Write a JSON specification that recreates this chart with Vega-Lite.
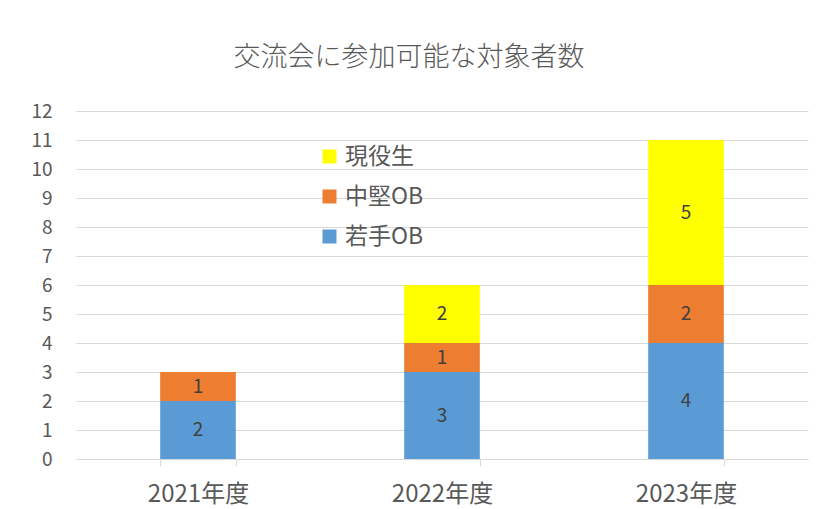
{
  "$schema": "https://vega.github.io/schema/vega-lite/v6.json",
  "width": 732,
  "height": 348,
  "autosize": "none",
  "padding": {"left": 76, "top": 111, "right": 18, "bottom": 50},
  "background": "white",
  "config": {
    "font": "Noto Sans CJK JP",
    "view": {"stroke": null}
  },
  "title": {
    "text": "交流会に参加可能な対象者数",
    "fontSize": 27,
    "fontWeight": 300,
    "color": "#595959",
    "anchor": "middle",
    "dx": -33,
    "offset": 30
  },
  "data": {
    "values": [
      {"year": "2021年度", "group": "若手OB", "value": 2},
      {"year": "2021年度", "group": "中堅OB", "value": 1},
      {"year": "2022年度", "group": "若手OB", "value": 3},
      {"year": "2022年度", "group": "中堅OB", "value": 1},
      {"year": "2022年度", "group": "現役生", "value": 2},
      {"year": "2023年度", "group": "若手OB", "value": 4},
      {"year": "2023年度", "group": "中堅OB", "value": 2},
      {"year": "2023年度", "group": "現役生", "value": 5}
    ]
  },
  "transform": [
    {"calculate": "indexof(['若手OB','中堅OB','現役生'], datum.group)", "as": "ord"},
    {"stack": "value", "groupby": ["year"], "sort": [{"field": "ord", "order": "ascending"}], "as": ["v0", "v1"]},
    {"calculate": "(datum.v0 + datum.v1) / 2", "as": "mid"}
  ],
  "encoding": {
    "x": {
      "field": "year",
      "type": "nominal",
      "title": null,
      "scale": {"paddingInner": 0.69, "paddingOuter": 0.345},
      "axis": {
        "labelAngle": 0,
        "labelFontSize": 24,
        "labelColor": "#595959",
        "labelPadding": 16,
        "domainColor": "#D9D9D9",
        "tickColor": "#D9D9D9",
        "tickBand": "extent",
        "tickSize": 7,
        "grid": false
      }
    }
  },
  "layer": [
    {
      "mark": {"type": "bar"},
      "encoding": {
        "y": {
          "field": "v0",
          "type": "quantitative",
          "title": null,
          "scale": {"domain": [0, 12]},
          "axis": {
            "values": [0,1,2,3,4,5,6,7,8,9,10,11,12],
            "labelOverlap": false,
            "domain": false,
            "ticks": false,
            "tickSize": 0,
            "labelFontSize": 19,
            "labelColor": "#595959",
            "labelPadding": 24,
            "gridColor": "#D9D9D9",
            "gridWidth": 1
          }
        },
        "y2": {"field": "v1"},
        "color": {
          "field": "group",
          "type": "nominal",
          "scale": {
            "domain": ["現役生", "中堅OB", "若手OB"],
            "range": ["#FFFF00", "#ED7D31", "#5B9BD5"]
          },
          "legend": {
            "title": null,
            "orient": "none",
            "legendX": 242,
            "legendY": 34,
            "symbolType": "square",
            "symbolSize": 196,
            "symbolStrokeWidth": 0,
            "labelFontSize": 23,
            "labelColor": "#595959",
            "labelOffset": 4,
            "rowPadding": 16
          }
        }
      }
    },
    {
      "mark": {"type": "text", "fontSize": 19, "color": "#404040"},
      "encoding": {
        "y": {
          "field": "mid",
          "type": "quantitative",
          "title": null,
          "scale": {"domain": [0, 12]},
          "axis": {
            "values": [0,1,2,3,4,5,6,7,8,9,10,11,12],
            "labelOverlap": false,
            "domain": false,
            "ticks": false,
            "tickSize": 0,
            "labelFontSize": 19,
            "labelColor": "#595959",
            "labelPadding": 24,
            "gridColor": "#D9D9D9",
            "gridWidth": 1
          }
        },
        "text": {"field": "value", "type": "quantitative"}
      }
    }
  ]
}
